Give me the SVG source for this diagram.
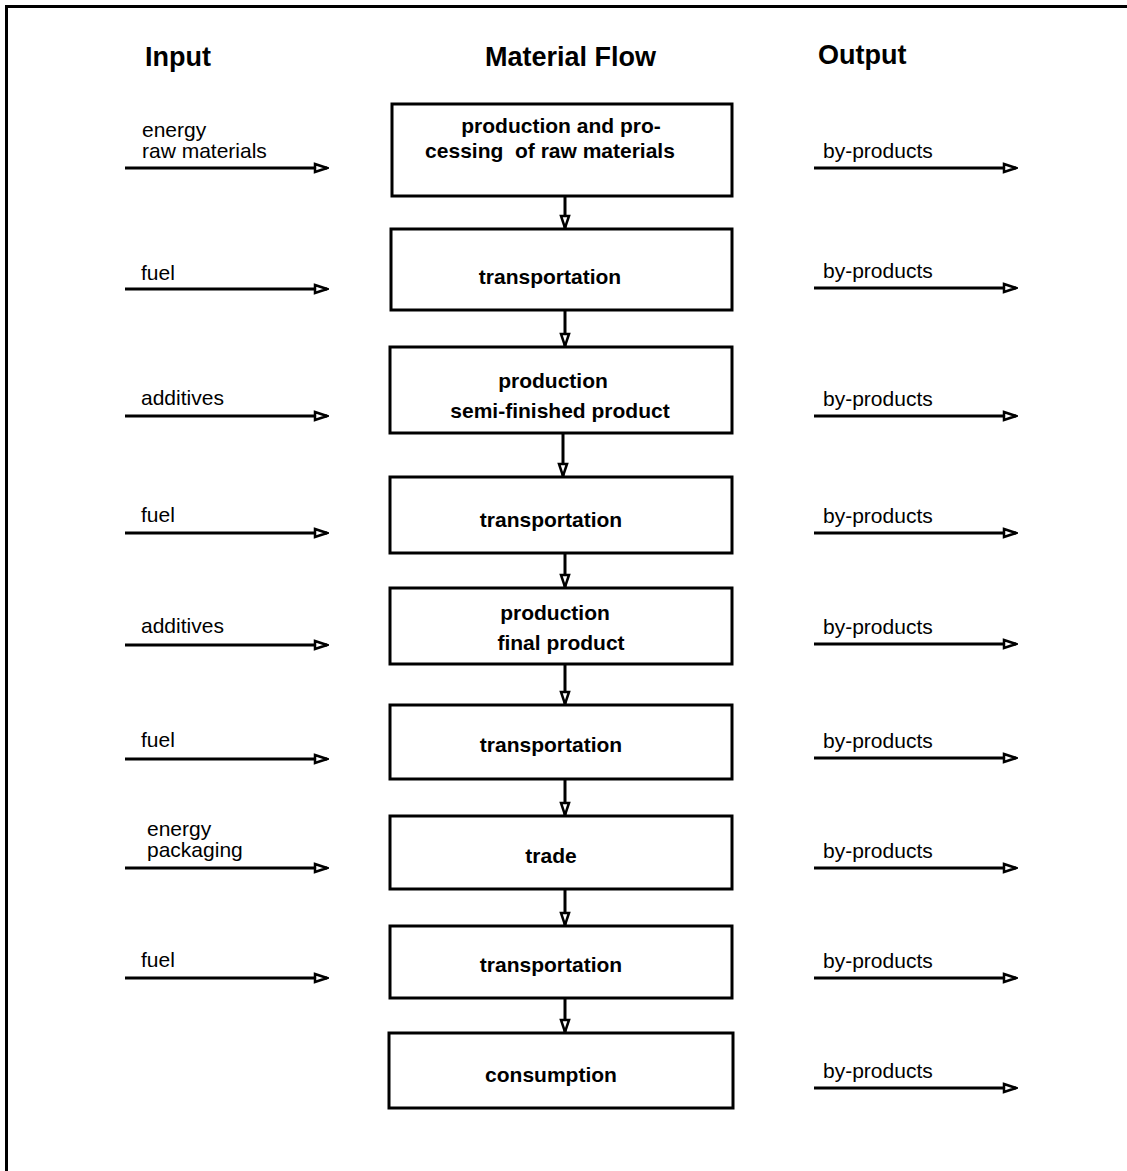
<svg xmlns="http://www.w3.org/2000/svg" width="1127" height="1171" viewBox="0 0 1127 1171">
<style>
  .frame{fill:none;stroke:#000;stroke-width:3}
  .box{fill:#fff;stroke:#000;stroke-width:3}
  .bt{font-family:"Liberation Sans",Arial,sans-serif;font-weight:bold;font-size:21px;fill:#000;text-anchor:middle}
  .hd{font-family:"Liberation Sans",Arial,sans-serif;font-weight:bold;font-size:27px;fill:#000}
  .lb{font-family:"Liberation Sans",Arial,sans-serif;font-size:21px;fill:#000}
  .cn{fill:none;stroke:#000;stroke-width:3;marker-end:url(#ah)}
</style>
<defs>
  <marker id="ah" markerUnits="userSpaceOnUse" viewBox="0 0 16 12" markerWidth="16" markerHeight="12" refX="14" refY="6" orient="auto">
    <path d="M2,2 L14,6 L2,10 Z" fill="#fff" stroke="#000" stroke-width="2.5" stroke-linejoin="miter"/>
  </marker>
</defs>
<rect width="1127" height="1171" fill="#fff"/>
<path class="frame" d="M6.5,1171 V6.5 H1127"/>

<g id="headings">
  <text class="hd" x="145" y="66">Input</text>
  <text class="hd" x="485" y="66">Material Flow</text>
  <text class="hd" x="818" y="64">Output</text>
</g>

<g id="n1"><rect class="box" x="392" y="104" width="340" height="92"/>
  <text class="bt" x="561" y="133">production and pro-</text>
  <text class="bt" x="550" y="158" xml:space="preserve">cessing  of raw materials</text></g>
<g id="n2"><rect class="box" x="391" y="229" width="341" height="81"/>
  <text class="bt" x="550" y="284">transportation</text></g>
<g id="n3"><rect class="box" x="390" y="347" width="342" height="86"/>
  <text class="bt" x="553" y="388">production</text>
  <text class="bt" x="560" y="418">semi-finished product</text></g>
<g id="n4"><rect class="box" x="390" y="477" width="342" height="76"/>
  <text class="bt" x="551" y="527">transportation</text></g>
<g id="n5"><rect class="box" x="390" y="588" width="342" height="76"/>
  <text class="bt" x="555" y="620">production</text>
  <text class="bt" x="561" y="650">final product</text></g>
<g id="n6"><rect class="box" x="390" y="705" width="342" height="74"/>
  <text class="bt" x="551" y="752">transportation</text></g>
<g id="n7"><rect class="box" x="390" y="816" width="342" height="73"/>
  <text class="bt" x="551" y="863">trade</text></g>
<g id="n8"><rect class="box" x="390" y="926" width="342" height="72"/>
  <text class="bt" x="551" y="972">transportation</text></g>
<g id="n9"><rect class="box" x="389" y="1033" width="344" height="75"/>
  <text class="bt" x="551" y="1082">consumption</text></g>

<g id="input-labels">
  <text class="lb" x="142" y="137">energy</text>
  <text class="lb" x="142" y="158">raw materials</text>
  <text class="lb" x="141" y="280">fuel</text>
  <text class="lb" x="141" y="405">additives</text>
  <text class="lb" x="141" y="522">fuel</text>
  <text class="lb" x="141" y="633">additives</text>
  <text class="lb" x="141" y="747">fuel</text>
  <text class="lb" x="147" y="836">energy</text>
  <text class="lb" x="147" y="857">packaging</text>
  <text class="lb" x="141" y="967">fuel</text>
</g>
<g id="output-labels">
  <text class="lb" x="823" y="158">by-products</text>
  <text class="lb" x="823" y="278">by-products</text>
  <text class="lb" x="823" y="406">by-products</text>
  <text class="lb" x="823" y="523">by-products</text>
  <text class="lb" x="823" y="634">by-products</text>
  <text class="lb" x="823" y="748">by-products</text>
  <text class="lb" x="823" y="858">by-products</text>
  <text class="lb" x="823" y="968">by-products</text>
  <text class="lb" x="823" y="1078">by-products</text>
</g>

<g id="connectors">
  <line class="cn" x1="565" y1="196" x2="565" y2="228"/>
  <line class="cn" x1="565" y1="310" x2="565" y2="346"/>
  <line class="cn" x1="563" y1="433" x2="563" y2="476"/>
  <line class="cn" x1="565" y1="553" x2="565" y2="587"/>
  <line class="cn" x1="565" y1="664" x2="565" y2="704"/>
  <line class="cn" x1="565" y1="779" x2="565" y2="815"/>
  <line class="cn" x1="565" y1="889" x2="565" y2="925"/>
  <line class="cn" x1="565" y1="998" x2="565" y2="1032"/>

  <line class="cn" x1="125" y1="168" x2="327" y2="168"/>
  <line class="cn" x1="125" y1="289" x2="327" y2="289"/>
  <line class="cn" x1="125" y1="416" x2="327" y2="416"/>
  <line class="cn" x1="125" y1="533" x2="327" y2="533"/>
  <line class="cn" x1="125" y1="645" x2="327" y2="645"/>
  <line class="cn" x1="125" y1="759" x2="327" y2="759"/>
  <line class="cn" x1="125" y1="868" x2="327" y2="868"/>
  <line class="cn" x1="125" y1="978" x2="327" y2="978"/>

  <line class="cn" x1="814" y1="168" x2="1016" y2="168"/>
  <line class="cn" x1="814" y1="288" x2="1016" y2="288"/>
  <line class="cn" x1="814" y1="416" x2="1016" y2="416"/>
  <line class="cn" x1="814" y1="533" x2="1016" y2="533"/>
  <line class="cn" x1="814" y1="644" x2="1016" y2="644"/>
  <line class="cn" x1="814" y1="758" x2="1016" y2="758"/>
  <line class="cn" x1="814" y1="868" x2="1016" y2="868"/>
  <line class="cn" x1="814" y1="978" x2="1016" y2="978"/>
  <line class="cn" x1="814" y1="1088" x2="1016" y2="1088"/>
</g>
</svg>
